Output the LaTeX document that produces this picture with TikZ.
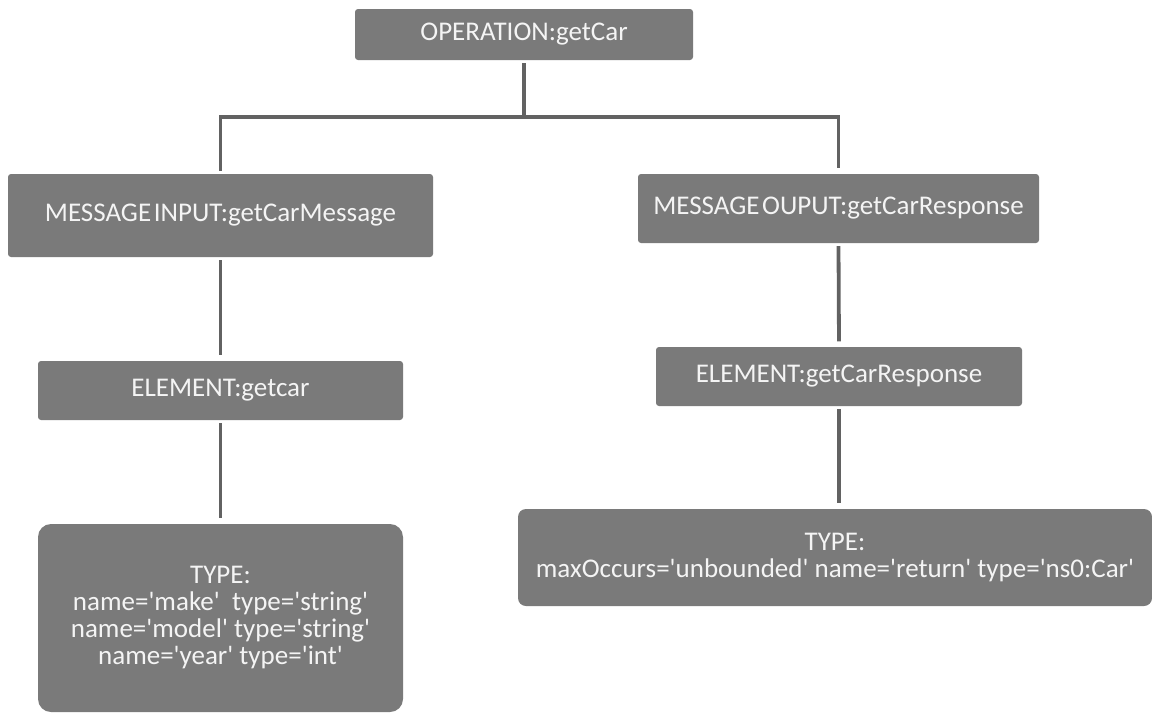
\documentclass[tikz,border=0pt]{standalone}
\usepackage{fontspec}
\setmainfont{Carlito}
\newcommand\qt[1]{\textquotesingle#1\textquotesingle}
\definecolor{boxgray}{HTML}{7A7A7A}
\definecolor{linegray}{HTML}{626262}
\definecolor{boxtext}{HTML}{F4F4F4}
\tikzset{
  box/.style={fill=boxgray, draw=none, rounded corners=3pt, text=boxtext,
    font=\fontsize{27}{27}\selectfont, align=center, inner sep=0pt},
  conn/.style={draw=linegray, line width=3.8pt, line join=miter,
    shorten <=3pt, shorten >=5.5pt}
}
\begin{document}
\begin{tikzpicture}[x=1pt,y=-1pt]
\useasboundingbox (0,0) rectangle (1152,713);

% operation
\node[box, minimum width=338pt, minimum height=51pt] (op) at (524,34.5) {OPERATION:getCar};

% messages
\node[box, minimum width=425pt, minimum height=83pt] (in) at (220.5,215.5)
  {MESSAGE\hspace{0.1em}INPUT:getCarMessage};
\node[box, minimum width=401pt, minimum height=69pt] (out) at (838.5,208.5)
  {MESSAGE\hspace{0.1em}OUPUT:getCarResponse};

% elements
\node[box, minimum width=365pt, minimum height=59pt] (elemL) at (220.5,390.5)
  {ELEMENT:getcar};
\node[box, minimum width=366pt, minimum height=59pt] (elemR) at (839,376.5)
  {ELEMENT:getCarResponse};

% types
\node[box, rounded corners=13pt, minimum width=365pt, minimum height=188pt] (typeL) at (220.5,618)
  {TYPE:\\ name=\qt{make}\ \ type=\qt{string}\\ name=\qt{model} type=\qt{string}\\ name=\qt{year} type=\qt{int}};
\node[box, rounded corners=8pt, minimum width=634pt, minimum height=97pt] (typeR) at (835,557.5)
  {TYPE:\\ maxOccurs=\qt{unbounded} name=\qt{return} type=\qt{ns0:Car}};

% tree connectors
\coordinate (bus) at (524,117);
\draw[conn, shorten >=0pt] (op.south) -- (op.south |- bus);
\draw[conn] (in.north) -- (in.north |- bus) -- (out.north |- bus) -- (out.north);
\draw[conn] (in.south) -- (elemL.north);
\draw[conn] (elemL.south) -- (typeL.north);
\draw[conn] (out.south) -- (elemR.north);
\draw[conn] (elemR.south) -- (elemR.south |- typeR.north);
\end{tikzpicture}
\end{document}
